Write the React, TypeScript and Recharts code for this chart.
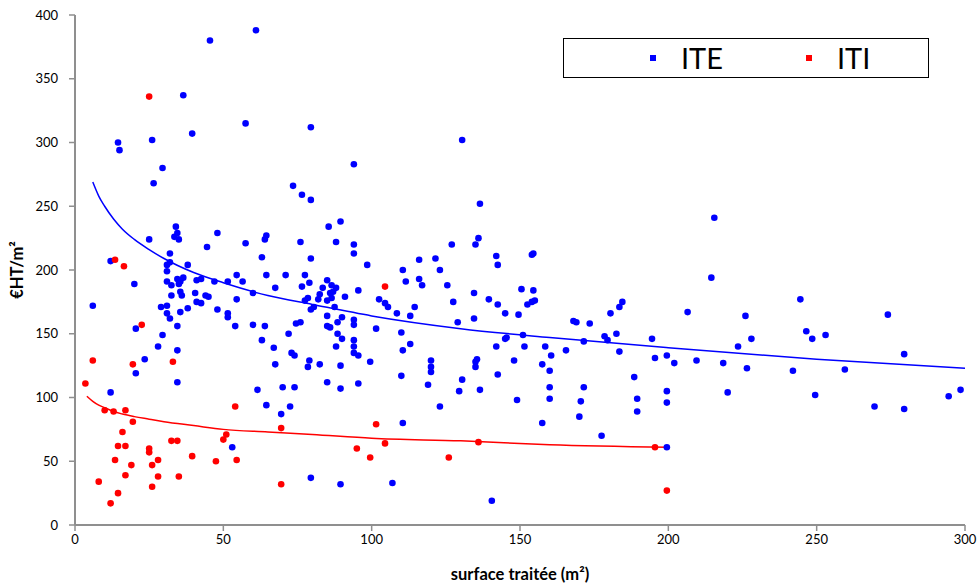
import React from "react";
import { ComposedChart, Scatter, Line, XAxis, YAxis, Legend } from "recharts";

const FONT = "Lato, 'Open Sans', sans-serif";
const AXIS_GREY = "#8f8f8f";

// [surface traitée (m²), prix €HT/m²]
const ITE_POINTS: [number, number][] = [
  [45.5, 380], [61, 388], [36.5, 337], [57.5, 315], [79.5, 312], [14.5, 300], [15, 294], [26, 302],
  [39.5, 307], [29.5, 280], [26.5, 268], [73.5, 266], [76.5, 259], [79.5, 255], [130.5, 302], [94, 283],
  [136.5, 252], [85.5, 234], [89.5, 238], [34, 234], [34.5, 229], [33.5, 226], [35, 224], [25, 224],
  [48, 229], [44.5, 218], [57.5, 221], [64, 224], [64.5, 227], [76, 222], [63, 210], [79.5, 209],
  [32, 213], [12, 207], [31, 204], [32, 206], [38, 204], [31, 199], [20, 189], [31, 191],
  [32.5, 188], [34.5, 193], [35.5, 191], [36.5, 194], [35, 189], [35.5, 183], [36, 180], [32.5, 180],
  [41, 192], [42.5, 193], [40.5, 182], [44, 180], [45, 179], [47, 191], [51.5, 191], [54.5, 196],
  [56.5, 191], [54.5, 177], [41, 175], [42.5, 174], [6, 172], [29, 171], [31, 172], [38, 170],
  [48, 169], [35.5, 167], [31, 166], [32, 162], [51.5, 166], [51.5, 163], [54, 156], [60, 157],
  [64, 156], [63, 145], [67, 139], [67.5, 126], [72, 150], [74.5, 158], [76, 159], [73, 135],
  [74, 133], [79, 129], [78.5, 124], [82.5, 126], [64.5, 196], [71, 196], [77.5, 196], [60, 182],
  [67.5, 186], [76.5, 187], [79, 190], [85, 192], [83.5, 186], [82.5, 181], [82, 177], [86.5, 188],
  [88, 186], [87, 183], [86, 182], [78.5, 178], [77.5, 176], [85, 176], [86.5, 178], [91, 179],
  [95.5, 184], [94, 220], [94, 213], [88, 222], [98.5, 204], [116, 208], [121.5, 209], [123, 200],
  [110.5, 200], [111.5, 191], [116, 193], [117, 188], [125.5, 188], [127, 220], [136, 225], [135, 220],
  [142, 211], [142.5, 204], [154, 212], [154.5, 213], [134.5, 182], [150.5, 185], [154.5, 184], [139.5, 177],
  [142.5, 173], [152.5, 173], [154, 175], [155, 176], [127.5, 175], [102.5, 177], [104.5, 174], [105.5, 171],
  [108.5, 166], [113, 164], [114.5, 171], [129, 159], [134.5, 162], [101.5, 154], [94, 161], [94, 157],
  [90, 163], [88.5, 159], [85, 164], [85, 156], [86, 155], [80.5, 171], [79.5, 169], [87.5, 171],
  [88.5, 150], [90, 146], [88, 140], [94, 145], [94, 140], [94, 135], [95.5, 133], [99.5, 128],
  [89.5, 125], [85, 112], [89.5, 107], [95.5, 111], [70, 108], [74, 108], [61.5, 106], [64.5, 94],
  [72.5, 93], [69.5, 87], [110, 117], [110, 151], [113, 142], [110.5, 137], [110.5, 80], [123, 93],
  [119, 110], [120, 120], [120, 124], [120, 129], [130.5, 114], [129.5, 105], [136.5, 106], [135, 124],
  [135, 128], [135.5, 130], [142.5, 118], [142, 140], [145, 146], [145.5, 147], [145, 166], [149.5, 165],
  [151, 149], [151.5, 140], [148, 129], [149, 98], [157.5, 80], [158.5, 140], [157.5, 126], [160, 121],
  [160, 108], [160, 99], [160.5, 133], [165.5, 137], [171.5, 144], [171.5, 108], [170.5, 97], [170, 85],
  [168, 160], [169, 159], [173.5, 158], [180.5, 166], [183.5, 171], [184.5, 175], [178.5, 148], [179.5, 145],
  [182.5, 150], [183.5, 136], [177.5, 70], [188.5, 116], [189.5, 99], [189.5, 89], [194.5, 146], [195.5, 131],
  [199.5, 133], [202, 127], [199.5, 105], [199.5, 96], [199.5, 61], [206.5, 167], [209.5, 129], [215.5, 241],
  [214.5, 194], [218.5, 127], [220, 104], [226, 164], [223.5, 140], [228, 146], [226.5, 123], [242, 121],
  [244.5, 177], [246.5, 152], [248.5, 146], [253, 149], [249.5, 102], [259.5, 122], [269.5, 93], [274, 165],
  [279.5, 134], [279.5, 91], [294.5, 101], [298.5, 106], [12, 104], [20.5, 154], [29.5, 149], [28, 140],
  [34.5, 156], [34.5, 137], [23.5, 130], [20.5, 119], [34.5, 112], [53, 61], [79.5, 37], [89.5, 32],
  [107, 33], [140.5, 19],
];

const ITI_POINTS: [number, number][] = [
  [25, 336], [13.5, 208], [16.5, 203], [22.5, 157], [6, 129], [3.5, 111], [19.5, 126], [33, 128],
  [104.5, 187], [10, 90], [13, 89], [17, 90], [19.5, 81], [16, 73], [14.5, 62], [17, 62],
  [25, 60], [25, 57], [32.5, 66], [34.5, 66], [13.5, 51], [19, 47], [28, 51], [26, 47],
  [17, 39], [28, 38], [26, 30], [8, 34], [14.5, 25], [12, 17], [39.5, 54], [35, 38],
  [47.5, 50], [50, 67], [51, 71], [54.5, 51], [54, 93], [69.5, 76], [69.5, 32], [101.5, 79],
  [95, 60], [99.5, 53], [104.5, 64], [126, 53], [136, 65], [195.5, 61], [199.5, 27],
];

// trend curves (logarithmic)
const ITE_TREND: [number, number][] = [
  [6, 269], [8, 258], [10, 250], [13, 240], [16, 232], [20, 224], [25, 216], [30, 209], [40, 198],
  [50, 190], [65, 180], [80, 173], [100, 164], [130, 154], [160, 147], [200, 139], [250, 130], [300, 123],
];
const ITI_TREND: [number, number][] = [
  [4, 101], [6, 97], [8, 94], [10, 92], [13, 89], [16, 87], [20, 85], [25, 83], [30, 81], [40, 78],
  [50, 75], [65, 73], [80, 71], [100, 68], [130, 66], [160, 63], [200, 61],
];

const X_TICKS = [0, 50, 100, 150, 200, 250, 300];
const Y_TICKS = [0, 50, 100, 150, 200, 250, 300, 350, 400];

const toRows = (pts: [number, number][]) => pts.map(([x, y]) => ({ x, y }));

const dot = (color: string) => (p: any) => <circle cx={p.cx} cy={p.cy} r={3.3} fill={color} />;

function LegendBox({ payload }: any) {
  const items = (payload || []).filter((p: any) => p.type !== "none");
  return (
    <div
      style={{
        position: "relative",
        width: 366,
        height: 40,
        boxSizing: "border-box",
        border: "1px solid #000",
        background: "#fff",
        fontFamily: FONT,
        fontSize: 29,
        color: "#000",
      }}
    >
      {items.map((p: any, i: number) => (
        <div
          key={p.value}
          style={{ position: "absolute", left: 86 + i * 156, top: 0, height: 38, display: "flex", alignItems: "center" }}
        >
          <span style={{ display: "inline-block", width: 6, height: 6, background: p.color, marginRight: 25 }} />
          <span style={{ lineHeight: "38px" }}>{p.value}</span>
        </div>
      ))}
    </div>
  );
}

export default function App() {
  const tick = { fontSize: 13, fill: "#000", fontFamily: FONT };
  const titleStyle = { fontFamily: FONT, fontWeight: 700, fontSize: 16.5, fill: "#000" };
  return (
    <div style={{ position: "absolute", left: 0, top: 0, width: 979, height: 586, background: "#fff" }}>
      <ComposedChart width={979} height={586} margin={{ top: 15, right: 14, bottom: 3, left: 5 }}>
        <XAxis
          type="number"
          dataKey="x"
          domain={[0, 300]}
          ticks={X_TICKS}
          height={58}
          tick={tick}
          tickSize={6}
          tickMargin={4}
          axisLine={{ stroke: AXIS_GREY, strokeWidth: 2 }}
          tickLine={{ stroke: AXIS_GREY, strokeWidth: 1.5 }}
          label={{ value: "surface traitée (m²)", position: "insideBottom", offset: 3, style: titleStyle }}
        />
        <XAxis xAxisId="top" orientation="top" type="number" domain={[0, 300]} height={0} tick={false} tickLine={false}
          axisLine={{ stroke: AXIS_GREY, strokeWidth: 2 }} />
        <YAxis
          type="number"
          dataKey="y"
          domain={[0, 400]}
          ticks={Y_TICKS}
          width={70}
          tick={tick}
          tickSize={6}
          tickMargin={11}
          axisLine={{ stroke: AXIS_GREY, strokeWidth: 2 }}
          tickLine={{ stroke: AXIS_GREY, strokeWidth: 1.5 }}
          label={({ viewBox }: any) => {
            const cx = viewBox.x + 12;
            const cy = viewBox.y + viewBox.height / 2;
            return (
              <text x={cx} y={cy} transform={`rotate(-90 ${cx} ${cy})`} textAnchor="middle" dominantBaseline="central"
                style={titleStyle}>
                €HT/m²
              </text>
            );
          }}
        />
        <YAxis yAxisId="right" orientation="right" type="number" domain={[0, 400]} width={0} tick={false} tickLine={false}
          axisLine={{ stroke: AXIS_GREY, strokeWidth: 2 }} />
        <Legend
          layout="horizontal"
          verticalAlign="middle"
          align="center"
          content={<LegendBox />}
          wrapperStyle={{ left: 563, top: 38, width: 366, height: 40 }}
        />
        <Line data={toRows(ITE_TREND)} dataKey="y" type="monotone" stroke="#0000ff" strokeWidth={1.5} dot={false}
          activeDot={false} legendType="none" isAnimationActive={false} />
        <Line data={toRows(ITI_TREND)} dataKey="y" type="monotone" stroke="#ff0000" strokeWidth={1.5} dot={false}
          activeDot={false} legendType="none" isAnimationActive={false} />
        <Scatter name="ITE" data={toRows(ITE_POINTS)} fill="#0000ff" shape={dot("#0000ff")} legendType="square"
          isAnimationActive={false} />
        <Scatter name="ITI" data={toRows(ITI_POINTS)} fill="#ff0000" shape={dot("#ff0000")} legendType="square"
          isAnimationActive={false} />
      </ComposedChart>
    </div>
  );
}
